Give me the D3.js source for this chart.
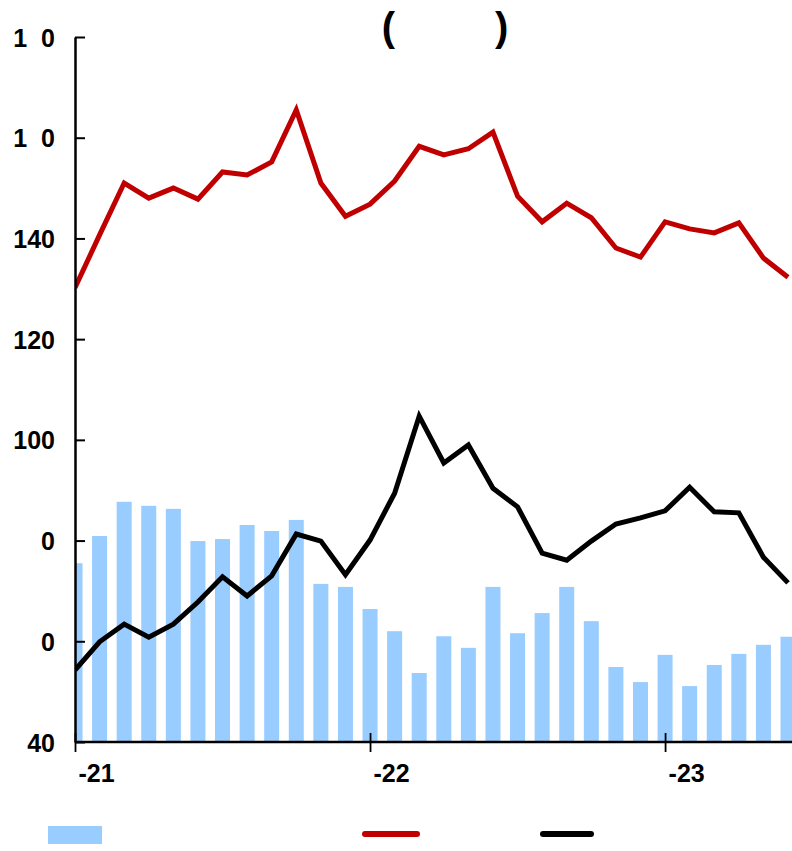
<!DOCTYPE html>
<html>
<head>
<meta charset="utf-8">
<script src="https://cdn.jsdelivr.net/npm/d3@7"></script>
<style>
  html, body { margin: 0; padding: 0; background: #fff; }
  svg { display: block; font-family: "Liberation Sans", Arial, sans-serif; }
</style>
</head>
<body>
<svg id="chart" width="792" height="851"></svg>
<script>
// ---- data ----
const months = [0,1,2,3,4,5,6,7,8,9,10,11,12,13,14,15,16,17,18,19,20,21,22,23,24,25,26,27,28,29];
const barValues = [75.5,80.9,87.7,86.9,86.3,79.9,80.3,83.1,81.9,84.1,71.4,70.8,66.4,62.0,53.7,61.0,58.7,70.8,61.6,65.6,70.8,64.0,54.9,51.9,57.3,51.1,55.3,57.5,59.3,60.9];
const redValues = [130.2,140.7,151.0,148.0,150.0,147.8,153.2,152.6,155.2,165.5,151.0,144.4,146.8,151.4,158.3,156.6,157.8,161.1,148.4,143.3,147.0,144.1,138.1,136.3,143.3,141.9,141.1,143.1,136.1,132.3];
const blackValues = [54.3,59.9,63.4,60.8,63.4,67.8,72.8,69.0,73.0,81.3,79.9,73.2,80.1,89.4,104.7,95.4,99.0,90.4,86.7,77.5,76.1,79.9,83.3,84.5,85.9,90.6,85.7,85.5,76.7,71.6];
const yTickValues = [40,60,80,100,120,140,160,180];
const yTickLabels = ["40","0","0","100","120","140","1\u00a0\u00a00","1\u00a0\u00a00"];
const xTickMonths = [0,12,24];
const xTickLabels = ["-21","-22","-23"];
const titleText = "(\u00a0\u00a0\u00a0\u00a0\u00a0\u00a0\u00a0\u00a0\u00a0)";

// ---- layout ----
const svg = d3.select("#chart");
const plotLeft = 75, plotRight = 792, plotTop = 37, plotBottom = 742;
const x = d3.scaleLinear().domain([0, 29]).range([75, 788]);
const y = d3.scaleLinear().domain([40, 180]).range([plotBottom, plotTop]);
const step = x(1) - x(0);
const barW = step * 0.61;

svg.append("defs").append("clipPath").attr("id", "plotclip")
  .append("rect").attr("x", plotLeft).attr("y", 0)
  .attr("width", plotRight - plotLeft).attr("height", plotBottom);

const plot = svg.append("g").attr("clip-path", "url(#plotclip)");

// bars
plot.selectAll("rect.bar").data(months).join("rect")
  .attr("class", "bar")
  .attr("x", i => x(i) - barW / 2)
  .attr("width", barW)
  .attr("y", i => y(barValues[i]))
  .attr("height", i => plotBottom - y(barValues[i]))
  .attr("fill", "#99CCFF");

// lines
const lineGen = vals => d3.line().x(i => x(i)).y(i => y(vals[i]))(months);
plot.append("path").attr("d", lineGen(blackValues))
  .attr("fill", "none").attr("stroke", "#000").attr("stroke-width", 5)
  .attr("stroke-linejoin", "miter");
plot.append("path").attr("d", lineGen(redValues))
  .attr("fill", "none").attr("stroke", "#C00000").attr("stroke-width", 5)
  .attr("stroke-linejoin", "miter");

// y axis
const yAxis = d3.axisLeft(y)
  .tickValues(yTickValues)
  .tickFormat((d, i) => yTickLabels[i])
  .tickSizeInner(-10).tickSizeOuter(0).tickPadding(20);
const gy = svg.append("g").attr("transform", `translate(${plotLeft},0)`).call(yAxis);
gy.select(".domain").attr("stroke", "#000").attr("stroke-width", 2.5);
gy.selectAll(".tick line").attr("stroke", "#000").attr("stroke-width", 2);
gy.selectAll(".tick text")
  .attr("fill", "#000").attr("font-size", 25).attr("font-weight", "bold")
  .attr("font-family", "'Liberation Sans', Arial, sans-serif")
  .attr("dy", "0.36em");

// x axis
const xAxis = d3.axisBottom(x)
  .tickValues(xTickMonths)
  .tickFormat((d, i) => xTickLabels[i])
  .tickSizeInner(10).tickSizeOuter(0).tickPadding(0);
const gx = svg.append("g").attr("transform", `translate(0,${plotBottom})`).call(xAxis);
gx.select(".domain").remove();
gx.append("line").attr("x1", plotLeft).attr("x2", plotRight).attr("y1", 0).attr("y2", 0)
  .attr("stroke", "#000").attr("stroke-width", 2.5);
gx.selectAll(".tick line").attr("y1", -9).attr("y2", 10).attr("stroke", "#000").attr("stroke-width", 1.8);
gx.selectAll(".tick text")
  .attr("fill", "#000").attr("font-size", 25).attr("font-weight", "bold")
  .attr("font-family", "'Liberation Sans', Arial, sans-serif")
  .attr("text-anchor", "start").attr("x", 3).attr("y", 40).attr("dy", 0);

// title
svg.append("text").attr("x", 445).attr("y", 41)
  .attr("text-anchor", "middle").attr("font-size", 40).attr("font-weight", "bold")
  .attr("fill", "#000").text(titleText);

// legend
const legend = svg.append("g");
legend.append("rect").attr("x", 48).attr("y", 826).attr("width", 54).attr("height", 18).attr("fill", "#99CCFF");
legend.append("line").attr("x1", 365).attr("x2", 417).attr("y1", 834).attr("y2", 834)
  .attr("stroke", "#C00000").attr("stroke-width", 6).attr("stroke-linecap", "round");
legend.append("line").attr("x1", 543).attr("x2", 591).attr("y1", 834).attr("y2", 834)
  .attr("stroke", "#000").attr("stroke-width", 6).attr("stroke-linecap", "round");
</script>
</body>
</html>
